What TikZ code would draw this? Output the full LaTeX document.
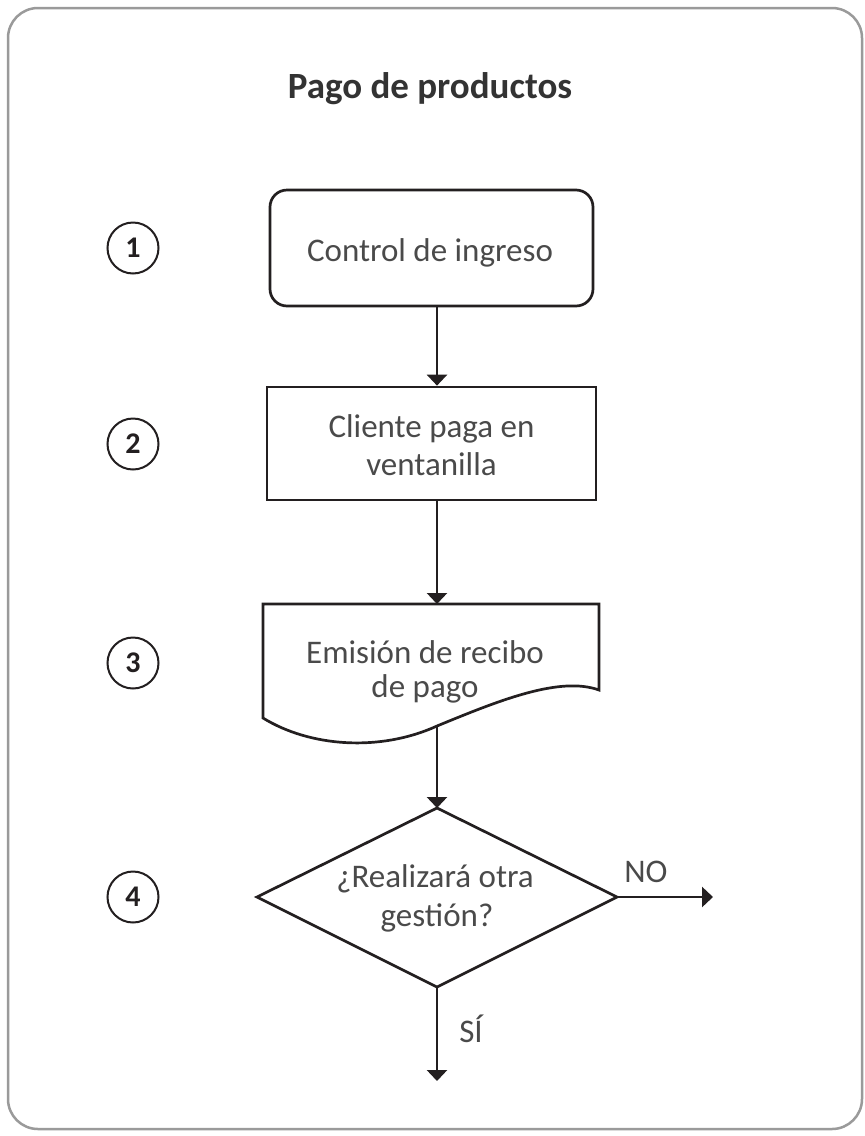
\documentclass[tikz,border=0pt]{standalone}
\usepackage{fontspec}
\setmainfont{Carlito}
\usetikzlibrary{arrows.meta}
\definecolor{linecol}{HTML}{231F20}
\definecolor{txtcol}{HTML}{4A4A4A}
\definecolor{framecol}{HTML}{9A9A9A}
\definecolor{titlecol}{HTML}{333333}
\begin{document}
\begin{tikzpicture}[x=1pt,y=-1pt,
  shapeline/.style={draw=linecol, line width=2.7pt},
  arr/.style={draw=linecol, line width=2.7pt, -{Triangle[length=11pt,width=20pt]}},
  lbl/.style={text=txtcol, font=\fontsize{33}{39}\selectfont, anchor=base, inner sep=0pt},
  num/.style={circle, draw=linecol, line width=2pt, minimum size=51pt, inner sep=0pt,
              font=\fontsize{30}{30}\selectfont\bfseries, text=linecol},
  boxrnd/.style={shapeline, rectangle, rounded corners=17pt, inner sep=0pt},
  boxsq/.style={shapeline, rectangle, inner sep=0pt}
]
\useasboundingbox (0,0) rectangle (865,1136);
% frame
\draw[framecol, line width=2.5pt, rounded corners=30pt] (8,8) rectangle (862,1129);

% title
\node[anchor=base, inner sep=0pt, text=titlecol, font=\fontsize{37}{44}\selectfont\bfseries] (title) at (430,98) {Pago de productos};

% step numbers
\node[num] (n1) at (133,248) {1};
\node[num] (n2) at (133,444) {2};
\node[num] (n3) at (133,663) {3};
\node[num] (n4) at (133,897) {4};

% step 1
\node[boxrnd, minimum width=323pt, minimum height=116pt] (b1) at (431.5,248) {};
\node[lbl] (t1) at (430,261) {Control de ingreso};

% step 2
\node[boxsq, minimum width=329pt, minimum height=113pt] (b2) at (431.5,443.5) {};
\node[lbl] (t2a) at (431.5,437) {Cliente paga en};
\node[lbl] (t2b) at (431.5,475) {ventanilla};

% step 3 (document shape)
\coordinate (doctop) at (437,604);
\coordinate (docbot) at (437,726);
\draw[shapeline, line join=miter] (263,718) -- (263,604) -- (599,604) -- (599,690)
  .. controls (560,676) and (500,700) .. (docbot)
  .. controls (380,752) and (310,747) .. (263,718) -- cycle;
\node[lbl] (t3a) at (425,663) {Emisión de recibo};
\node[lbl] (t3b) at (425,697) {de pago};

% step 4 (decision)
\coordinate (dT) at (437,808);
\coordinate (dR) at (617,897);
\coordinate (dB) at (437,987);
\coordinate (dL) at (257,897);
\draw[shapeline, line join=miter] (dT) -- (dR) -- (dB) -- (dL) -- cycle;
\node[lbl] (t4a) at (435,887) {¿Realizará otra};
\node[lbl] (t4b) at (437,926) {gestión?};

% connectors
\coordinate (ax) at (437,0);
\draw[arr] (b1.south -| ax) -- (b2.north -| ax);
\draw[arr] (b2.south -| ax) -- (doctop);
\draw[arr] (docbot) -- (dT);
\coordinate (noend) at (713,897);
\coordinate (siend) at (437,1081);
\draw[arr] (dR) -- (noend);
\draw[arr] (dB) -- (siend);
\node[lbl] (no) at (646,882) {NO};
\node[lbl] (si) at (471,1042) {SÍ};
\end{tikzpicture}
\end{document}
